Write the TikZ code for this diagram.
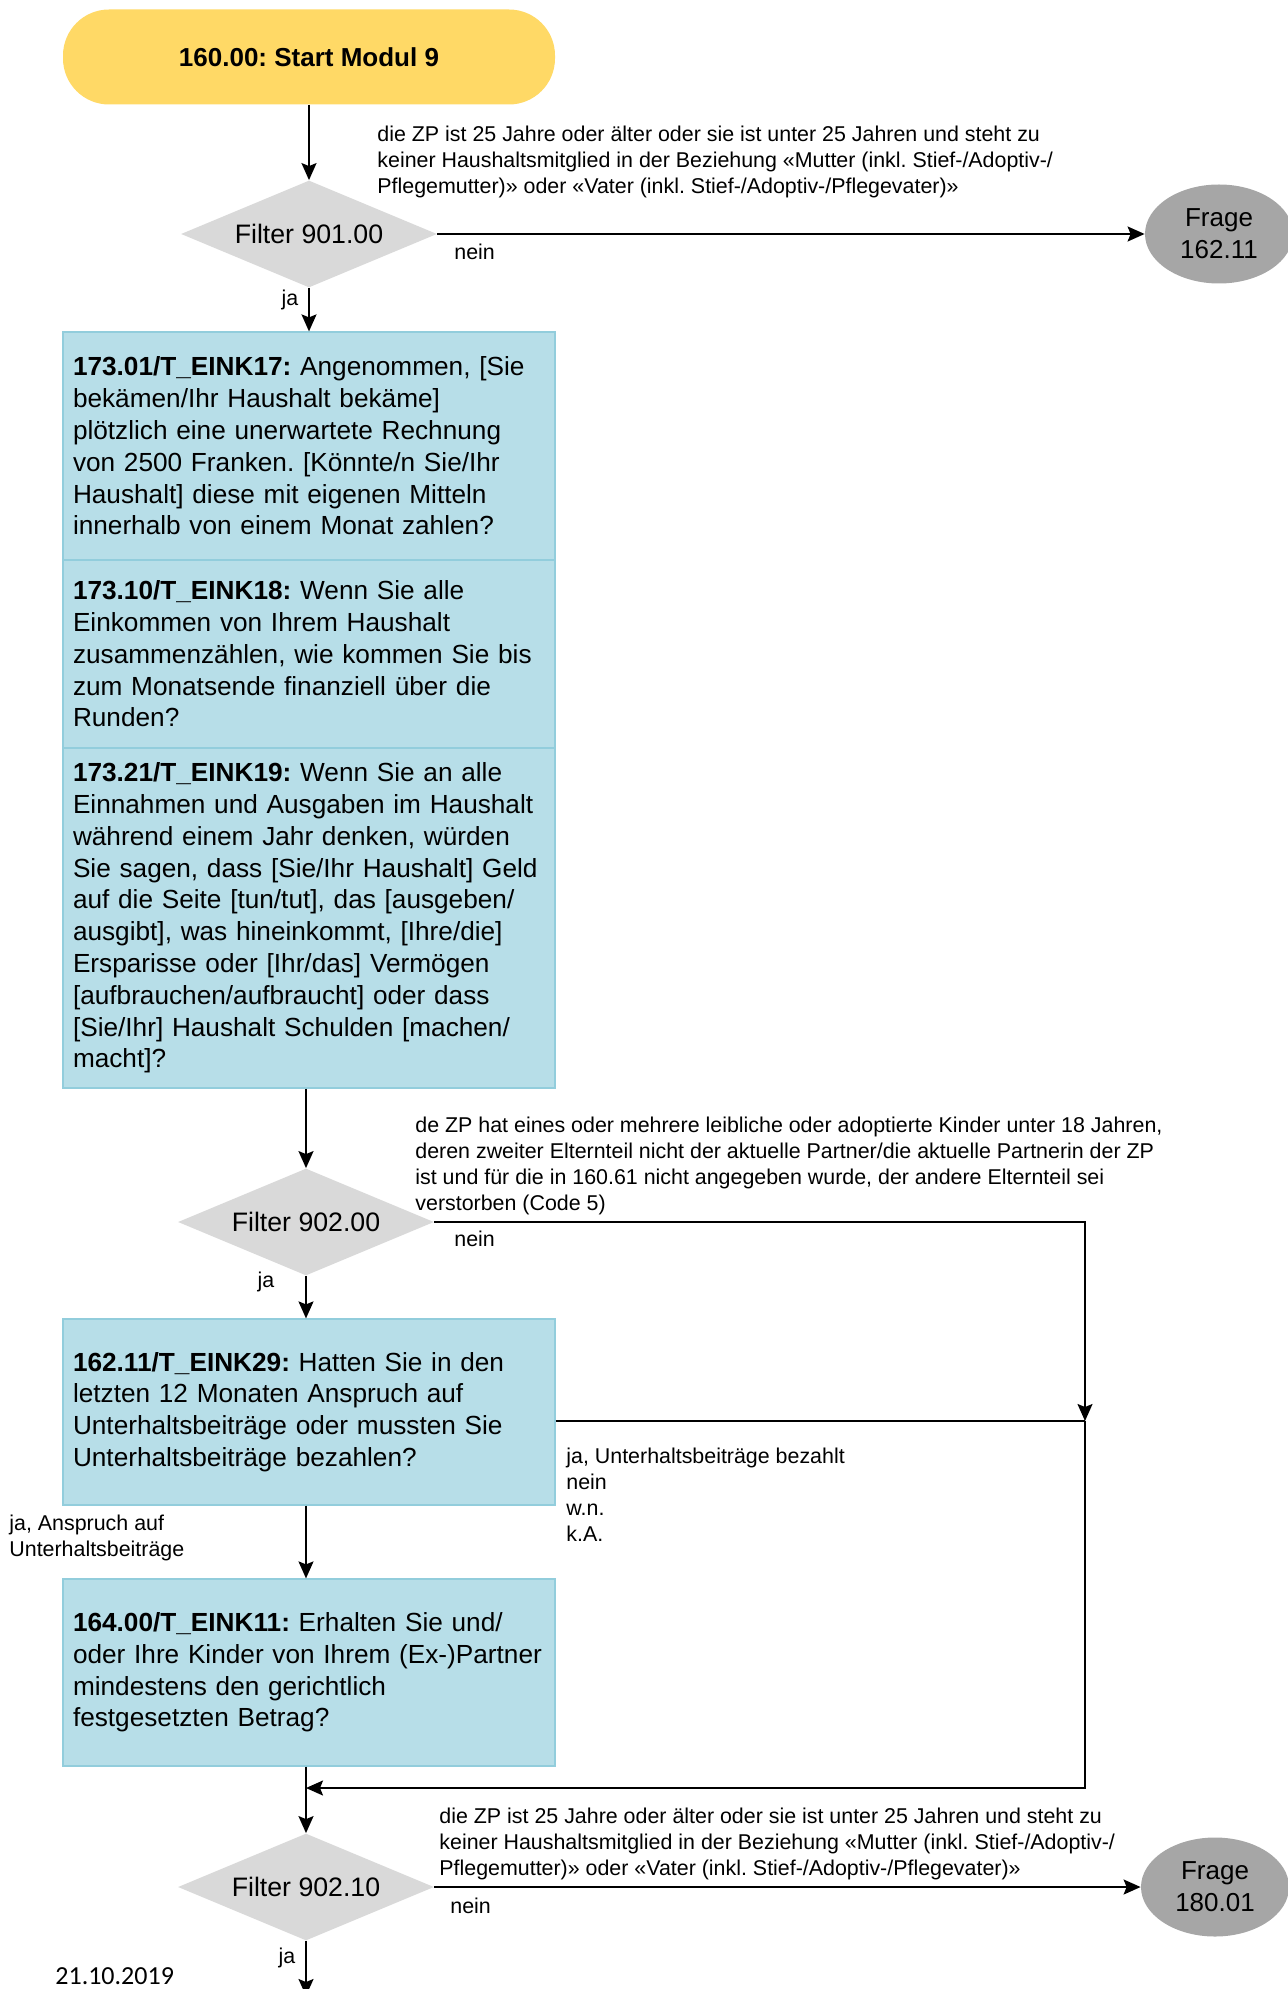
\documentclass[tikz,border=0pt]{standalone}
\usepackage{fontspec}
\setmainfont{Liberation Sans}
\newfontfamily\datumfont{Carlito}
\frenchspacing
\usetikzlibrary{shapes.geometric,arrows.meta}
\definecolor{startgelb}{HTML}{FFD966}
\definecolor{fragblau}{HTML}{B7DEE8}
\definecolor{fragrand}{HTML}{92CDDC}
\definecolor{filtergrau}{HTML}{D9D9D9}
\definecolor{sprunggrau}{HTML}{A6A6A6}
\begin{document}
\begin{tikzpicture}[x=0.5pt,y=-0.5pt,
  startbox/.style={rectangle,rounded corners=23pt,fill=startgelb,minimum width=246pt,minimum height=47.5pt,font=\fontsize{13}{16}\selectfont\bfseries},
  frage/.style={draw=fragrand,line width=0.6pt,fill=fragblau,text width=236pt,inner xsep=5pt,align=left,font=\fontsize{13.1}{15.9}\selectfont},
  filter/.style={diamond,aspect=2.4,fill=filtergrau,minimum width=128pt,minimum height=53.5pt,inner sep=0pt,font=\fontsize{13.35}{16}\selectfont},
  sprung/.style={ellipse,fill=sprunggrau,minimum width=74pt,minimum height=49.5pt,inner sep=0pt,align=center,font=\fontsize{13}{16}\selectfont},
  bed/.style={anchor=north west,inner sep=0pt,align=left,font=\fontsize{10.7}{12.9}\selectfont},
  antw/.style={inner sep=0pt,font=\fontsize{10.7}{12.9}\selectfont},
  pfeil/.style={line width=0.9pt,-{Stealth[length=8.5pt,width=7.5pt,inset=1.5pt]}},
  linie/.style={line width=0.9pt}]
\useasboundingbox (0,0) rectangle (1287,1989);
% Knoten
\node[startbox] (start) at (309,57) {160.00: Start Modul 9};
\node[filter] (f1) at (309,234) {Filter 901.00};
\node[sprung] (s1) at (1219,234) {Frage\\162.11};
\node[frage,minimum height=114pt] (q1) at (309,446) {\textbf{173.01/T\_EINK17:} Angenommen, [Sie\\bekämen/Ihr Haushalt bekäme]\\plötzlich eine unerwartete Rechnung\\von 2500 Franken. [Könnte/n Sie/Ihr\\Haushalt] diese mit eigenen Mitteln\\innerhalb von einem Monat zahlen?};
\node[frage,minimum height=94pt] (q2) at (309,654) {\textbf{173.10/T\_EINK18:} Wenn Sie alle\\Einkommen von Ihrem Haushalt\\zusammenzählen, wie kommen Sie bis\\zum Monatsende finanziell über die\\Runden?};
\node[frage,minimum height=170pt] (q3) at (309,918) {\textbf{173.21/T\_EINK19:} Wenn Sie an alle\\Einnahmen und Ausgaben im Haushalt\\während einem Jahr denken, würden\\Sie sagen, dass [Sie/Ihr Haushalt] Geld\\auf die Seite [tun/tut], das [ausgeben/\\ausgibt], was hineinkommt, [Ihre/die]\\Ersparisse oder [Ihr/das] Vermögen\\{}[aufbrauchen/aufbraucht] oder dass\\{}[Sie/Ihr] Haushalt Schulden [machen/\\macht]?};
\node[filter] (f2) at (306,1222) {Filter 902.00};
\node[frage,minimum height=93pt] (q4) at (309,1412) {\textbf{162.11/T\_EINK29:} Hatten Sie in den\\letzten 12 Monaten Anspruch auf\\Unterhaltsbeiträge oder mussten Sie\\Unterhaltsbeiträge bezahlen?};
\node[frage,minimum height=93.5pt] (q5) at (309,1672.5) {\textbf{164.00/T\_EINK11:} Erhalten Sie und/\\oder Ihre Kinder von Ihrem (Ex-)Partner\\mindestens den gerichtlich\\festgesetzten Betrag?};
\node[filter] (f3) at (306,1887) {Filter 902.10};
\node[sprung] (s2) at (1215,1887) {Frage\\180.01};
\coordinate (j1) at (1085,1421);
\coordinate (j2) at (306,1788);
\coordinate (ende) at (306,1996);
% Verbindungen
\draw[pfeil] (start) -- (f1);
\draw[pfeil] (f1) -- (q1);
\draw[pfeil] (f1) -- (s1);
\draw[pfeil] (q3.south -| f2) -- (f2);
\draw[pfeil] (f2) -| (j1);
\draw[pfeil] (f2) -- (q4.north -| f2);
\draw[linie] (q4.east |- j1) -- (j1);
\draw[pfeil] (j1) |- (j2);
\draw[pfeil] (q4.south -| f2) -- (q5.north -| f2);
\draw[pfeil] (q5.south -| f3) -- (f3);
\draw[pfeil] (f3) -- (s2);
\draw[pfeil] (f3) -- (ende);
% Bedingungen und Antworten
\node[bed] (b1) at (377,126) {die ZP ist 25 Jahre oder älter oder sie ist unter 25 Jahren und steht zu\\keiner Haushaltsmitglied in der Beziehung «Mutter (inkl. Stief-/Adoptiv-/\\Pflegemutter)» oder «Vater (inkl. Stief-/Adoptiv-/Pflegevater)»};
\node[bed] (b2) at (415,1117) {de ZP hat eines oder mehrere leibliche oder adoptierte Kinder unter 18 Jahren,\\deren zweiter Elternteil nicht der aktuelle Partner/die aktuelle Partnerin der ZP\\ist und für die in 160.61 nicht angegeben wurde, der andere Elternteil sei\\verstorben (Code 5)};
\node[bed] (b3) at (439,1808) {die ZP ist 25 Jahre oder älter oder sie ist unter 25 Jahren und steht zu\\keiner Haushaltsmitglied in der Beziehung «Mutter (inkl. Stief-/Adoptiv-/\\Pflegemutter)» oder «Vater (inkl. Stief-/Adoptiv-/Pflegevater)»};
\node[bed] (b4) at (566,1448) {ja, Unterhaltsbeiträge bezahlt\\nein\\w.n.\\k.A.};
\node[bed] (b5) at (9,1515) {ja, Anspruch auf\\Unterhaltsbeiträge};
\node[antw,anchor=west] (n1) at (454,252) {nein};
\node[antw,anchor=west] (n2) at (454,1239) {nein};
\node[antw,anchor=west] (n3) at (450,1906) {nein};
\node[antw] (ja1) at (290,300) {ja};
\node[antw] (ja2) at (266,1282) {ja};
\node[antw] (ja3) at (287,1958) {ja};
\node[anchor=west,inner sep=0pt,font=\datumfont\fontsize{13}{16}\selectfont] (datum) at (55,1976) {21.10.2019};
\end{tikzpicture}
\end{document}
